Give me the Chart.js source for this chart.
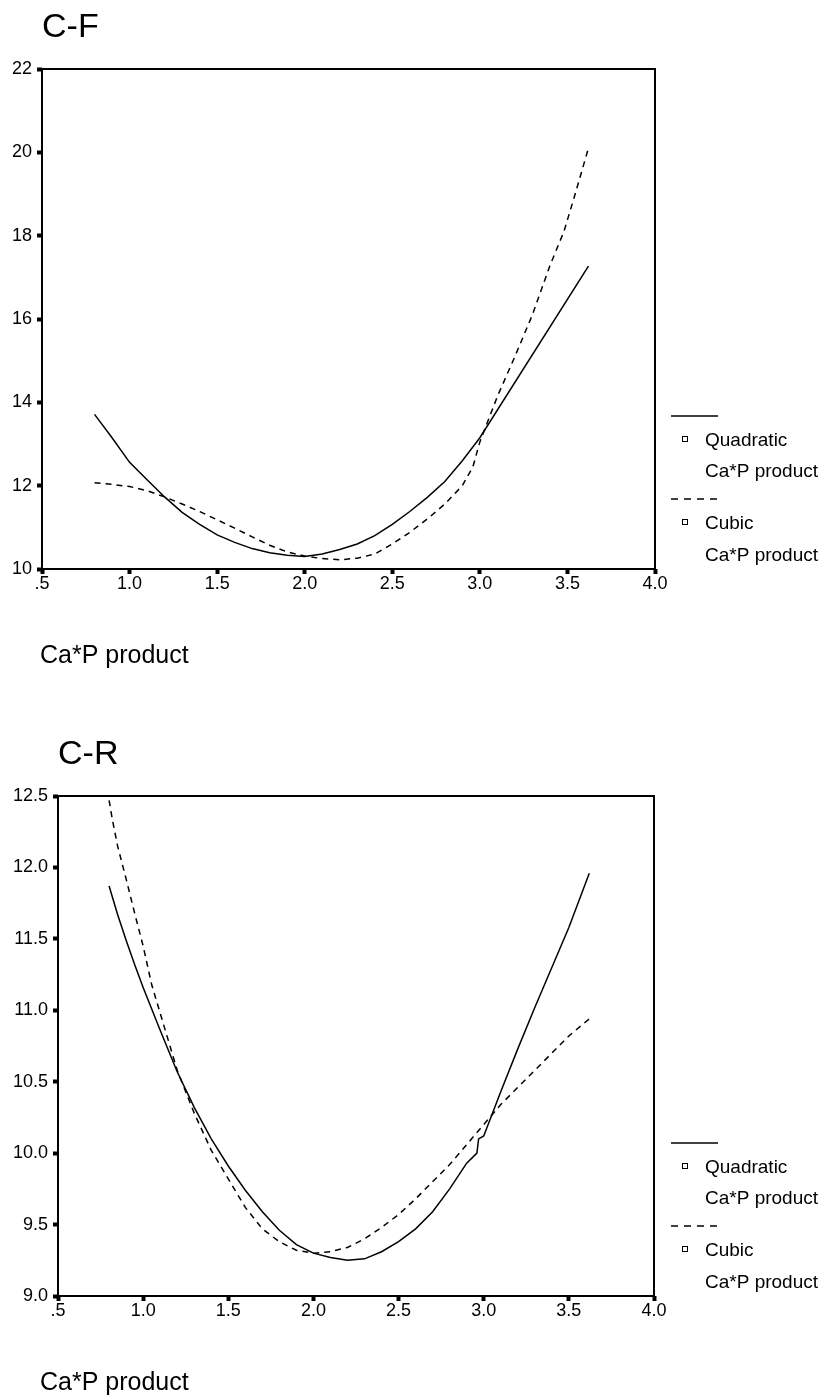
<!DOCTYPE html>
<html lang="en">
  <head>
    <meta charset="UTF-8" />
    <title>C-F / C-R curve fits</title>
    <script src="https://cdn.jsdelivr.net/npm/chart.js"></script>
    <style>
      body {
        margin: 0;
        background: #fff;
      }
      canvas {
        display: block;
      }
    </style>
  </head>
  <body>
    <canvas id="cfChart" width="825" height="700"></canvas>
    <canvas id="crChart" width="825" height="697"></canvas>

    <script>
      // C-F panel
      const cfQuadX = [0.8, 0.9, 1.0, 1.1, 1.2, 1.3, 1.4, 1.5, 1.6, 1.7, 1.8, 1.9, 2.0, 2.1, 2.2, 2.3, 2.4, 2.5, 2.6, 2.7, 2.8, 2.9, 3.0, 3.62];
      const cfQuadY = [13.71, 13.15, 12.56, 12.14, 11.73, 11.36, 11.07, 10.82, 10.64, 10.49, 10.39, 10.33, 10.3, 10.36, 10.47, 10.6, 10.8, 11.07, 11.38, 11.72, 12.1, 12.6, 13.15, 17.27];
      const cfCubicX = [0.8, 0.9, 1.0, 1.1, 1.2, 1.3, 1.4, 1.5, 1.6, 1.7, 1.8, 1.9, 2.0, 2.1, 2.2, 2.3, 2.4, 2.5, 2.6, 2.7, 2.8, 2.9, 2.96, 3.0, 3.1, 3.2, 3.3, 3.4, 3.48, 3.54, 3.62];
      const cfCubicY = [12.07, 12.03, 11.98, 11.88, 11.73, 11.56, 11.38, 11.18, 10.98, 10.77, 10.57, 10.41, 10.31, 10.25, 10.22, 10.26, 10.36, 10.6, 10.88, 11.2, 11.56, 12.0, 12.45, 13.05, 14.14, 15.1, 16.1, 17.28, 18.1, 18.94, 20.1];

      // C-R panel
      const crQuadX = [0.8, 0.85, 0.9, 0.95, 1.0, 1.1, 1.2, 1.3, 1.4, 1.5, 1.6, 1.7, 1.8, 1.9, 2.0, 2.1, 2.2, 2.3, 2.4, 2.5, 2.6, 2.7, 2.8, 2.9, 2.96, 2.97, 3.0, 3.1, 3.2, 3.3, 3.4, 3.5, 3.62];
      const crQuadY = [11.87, 11.67, 11.49, 11.32, 11.16, 10.86, 10.57, 10.32, 10.1, 9.91, 9.74, 9.59, 9.46, 9.36, 9.3, 9.27, 9.25, 9.26, 9.31, 9.38, 9.47, 9.59, 9.75, 9.93, 10.0, 10.1, 10.12, 10.43, 10.73, 11.02, 11.3, 11.58, 11.96];
      const crCubicX = [0.8, 0.82, 0.85, 0.9, 0.95, 1.0, 1.05, 1.1, 1.2, 1.3, 1.4, 1.5, 1.6, 1.7, 1.8, 1.9, 2.0, 2.1, 2.2, 2.3, 2.4, 2.5, 2.6, 2.7, 2.8, 2.9, 3.0, 3.1, 3.2, 3.3, 3.4, 3.5, 3.62];
      const crCubicY = [12.47, 12.33, 12.15, 11.92, 11.68, 11.45, 11.18, 10.98, 10.58, 10.28, 10.02, 9.82, 9.62, 9.47, 9.38, 9.32, 9.3, 9.31, 9.34, 9.4, 9.48, 9.57, 9.68, 9.8, 9.92, 10.06, 10.2, 10.34, 10.46, 10.58, 10.7, 10.82, 10.94];

      const xLabel = "Ca*P product";
      const legendNames = ["Quadratic", "Cubic"];

      const FONT = '"Liberation Sans", Arial, sans-serif';
      Chart.defaults.font.family = FONT;
      Chart.defaults.color = "#000";

      const toPoints = (xs, ys) => xs.map((x, i) => ({ x: x, y: ys[i] }));

      // box, title, x caption and the SPSS-like legend
      const framePlugin = {
        id: "frame",
        afterDraw(chart, args, opts) {
          const ctx = chart.ctx;
          const a = chart.chartArea;
          ctx.save();
          ctx.strokeStyle = "#000";
          ctx.fillStyle = "#000";
          ctx.lineWidth = 2;
          ctx.strokeRect(a.left, a.top, a.right - a.left, a.bottom - a.top);

          ctx.textAlign = "left";
          ctx.textBaseline = "alphabetic";
          ctx.font = "34px " + FONT;
          ctx.fillText(opts.title, a.left, a.top - 32);
          ctx.font = "25px " + FONT;
          ctx.fillText(xLabel, 40, a.bottom + 94);

          // legend
          const B = a.bottom;
          ctx.lineWidth = 1.5;
          ctx.beginPath();
          ctx.moveTo(671, B - 153);
          ctx.lineTo(718, B - 153);
          ctx.stroke();
          ctx.setLineDash([7, 6]);
          ctx.beginPath();
          ctx.moveTo(671, B - 70);
          ctx.lineTo(718, B - 70);
          ctx.stroke();
          ctx.setLineDash([]);
          ctx.lineWidth = 1;
          ctx.strokeRect(682.5, B - 132.5, 5, 5);
          ctx.strokeRect(682.5, B - 49.5, 5, 5);

          ctx.font = "19px " + FONT;
          ctx.textBaseline = "middle";
          ctx.fillText(legendNames[0], 705, B - 128);
          ctx.fillText(xLabel, 705, B - 97);
          ctx.fillText(legendNames[1], 705, B - 45);
          ctx.fillText(xLabel, 705, B - 13);
          ctx.restore();
        },
      };

      // size = fixed width (y) or height (x) of the scale box
      function axis(min, max, step, fmt, isX, size) {
        return {
          type: "linear",
          min: min,
          max: max,
          ticks: {
            stepSize: step,
            autoSkip: false,
            maxRotation: 0,
            padding: isX ? -1 : 5,
            color: "#000",
            font: { size: 18 },
            callback: fmt,
          },
          grid: {
            drawOnChartArea: false,
            tickLength: 5,
            tickWidth: 4,
            tickColor: "#000",
          },
          border: { display: false },
          afterFit(scale) {
            if (isX) scale.height = size;
            else scale.width = size;
            scale.paddingLeft = 0;
            scale.paddingRight = 0;
            scale.paddingTop = 0;
            scale.paddingBottom = 0;
          },
        };
      }

      const fmtX = (v) => (v === 0.5 ? ".5" : Number(v).toFixed(1));

      function makeChart(id, title, quad, cubic, yMin, yMax, yStep, fmtY, yWidth, pad) {
        return new Chart(document.getElementById(id), {
          type: "line",
          data: {
            datasets: [
              {
                label: legendNames[0],
                data: quad,
                borderColor: "#000",
                borderWidth: 1.5,
                pointRadius: 0,
                tension: 0,
              },
              {
                label: legendNames[1],
                data: cubic,
                borderColor: "#000",
                borderWidth: 1.5,
                borderDash: [6, 5],
                pointRadius: 0,
                tension: 0,
              },
            ],
          },
          options: {
            responsive: false,
            animation: false,
            layout: { padding: pad },
            plugins: {
              legend: { display: false },
              tooltip: { enabled: false },
              frame: { title: title },
            },
            scales: {
              x: axis(0.5, 4, 0.5, fmtX, true, 30),
              y: axis(yMin, yMax, yStep, fmtY, false, yWidth),
            },
          },
          plugins: [framePlugin],
        });
      }

      makeChart(
        "cfChart",
        "C-F",
        toPoints(cfQuadX, cfQuadY),
        toPoints(cfCubicX, cfCubicY),
        10, 22, 2,
        (v) => String(v),
        42,
        { left: 0, top: 69, right: 170, bottom: 101 }
      );

      makeChart(
        "crChart",
        "C-R",
        toPoints(crQuadX, crQuadY),
        toPoints(crCubicX, crCubicY),
        9, 12.5, 0.5,
        (v) => Number(v).toFixed(1),
        58,
        { left: 0, top: 96, right: 171, bottom: 71 }
      );
    </script>
  </body>
</html>
